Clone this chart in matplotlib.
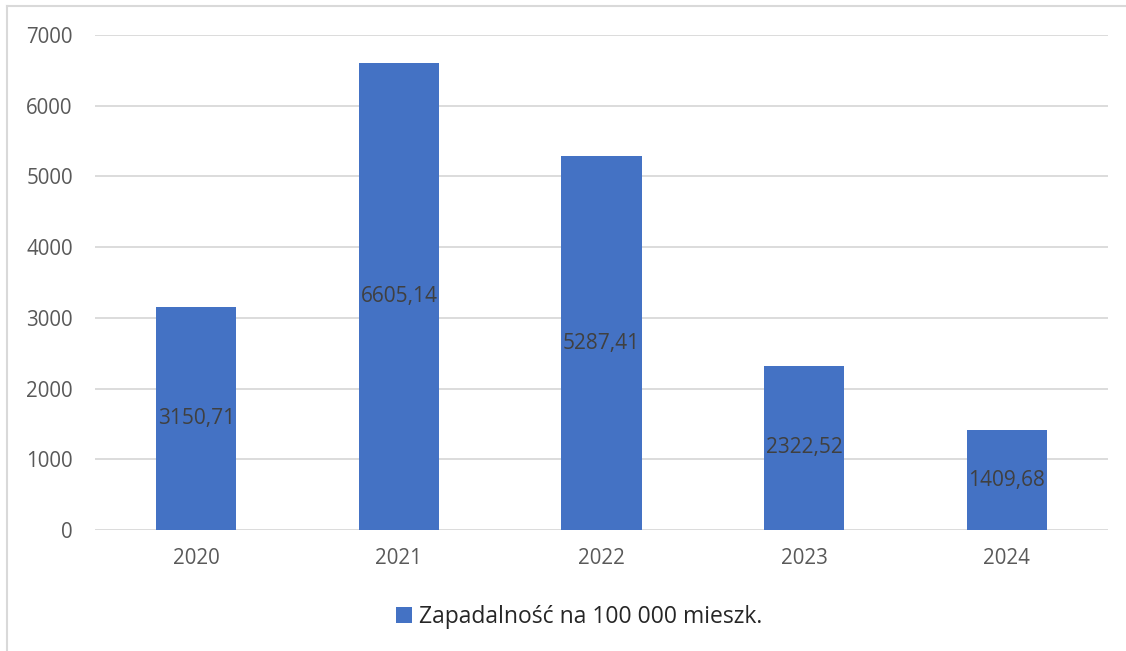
import matplotlib
matplotlib.use("Agg")
import matplotlib.pyplot as plt
from matplotlib.patches import Patch
from matplotlib.lines import Line2D

categories = ["2020", "2021", "2022", "2023", "2024"]
values = [3150.71, 6605.14, 5287.41, 2322.52, 1409.68]
value_labels = ["3150,71", "6605,14", "5287,41", "2322,52", "1409,68"]
yticks = [0, 1000, 2000, 3000, 4000, 5000, 6000, 7000]
series_name = "Zapadalność na 100 000 mieszk."

W, H = 1126, 651
fig = plt.figure(figsize=(W / 100, H / 100), dpi=100)
plt.rcParams['font.family'] = ['Open Sans', 'DejaVu Sans']

# outer frame (left + top)
fig.add_artist(Line2D([7 / W, 7 / W], [0, 1 - 6 / H], transform=fig.transFigure, color="#d9d9d9", lw=1.5))
fig.add_artist(Line2D([7 / W, 1], [1 - 6 / H, 1 - 6 / H], transform=fig.transFigure, color="#d9d9d9", lw=1.5))

left, right = 95 / W, 1108 / W
bottom, top = 1 - 530 / H, 1 - 35 / H
ax = fig.add_axes([left, bottom, right - left, top - bottom])

x = list(range(len(categories)))
bars = ax.bar(x, values, width=0.395, color="#4472C4", zorder=3)
ax.set_xlim(-0.5, len(categories) - 0.5)
ax.set_ylim(0, 7000)
ax.set_yticks(yticks)
ax.set_yticklabels([str(t) for t in yticks])
ax.set_xticks(x)
ax.set_xticklabels(categories)
ax.grid(axis="y", color="#d9d9d9", lw=1.3, zorder=0)
for s in ax.spines.values():
    s.set_visible(False)
ax.tick_params(axis="both", length=0, labelsize=14.8, labelcolor="#595959")
ax.tick_params(axis="y", pad=16)
ax.tick_params(axis="x", pad=13)

for xi, v, lab in zip(x, values, value_labels):
    ax.text(xi, v / 2, lab, ha="center", va="center", fontsize=15, color="#404040", zorder=4)

handle = Patch(facecolor="#4472C4", edgecolor="none")
fig.legend([handle], [series_name], loc="center", bbox_to_anchor=(579 / W, 1 - 617 / H),
           frameon=False, fontsize=16.5, handlelength=0.7, handleheight=0.7, handletextpad=0.3,
           labelcolor="#262626")

fig.savefig("out.png", dpi=100)
